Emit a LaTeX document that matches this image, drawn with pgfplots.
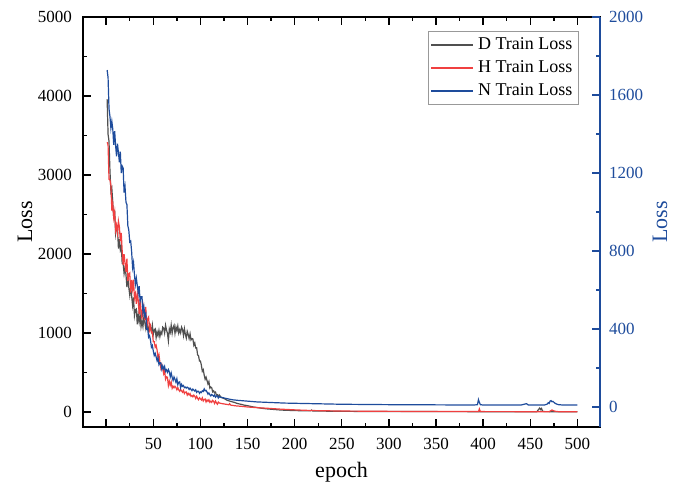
\documentclass[border=0pt]{standalone}
\usepackage{fontspec}
\setmainfont{Liberation Serif}
\usepackage{pgfplots}
\usepackage{pgfplotstable}
\pgfplotsset{compat=1.18}
\definecolor{dgray}{RGB}{80,80,80}
\definecolor{lred}{RGB}{240,64,64}
\definecolor{nblue}{RGB}{30,76,156}

\pgfplotstableread{
ep v
1 3960
2 3516
3 3428
4 3056
5 2792
6 2832
7 2642
8 2460
9 2550
10 2254
11 2326
12 2324
13 2070
14 2188
15 2054
16 2100
17 1880
18 1880
19 1750
20 1820
21 1740
22 1580
23 1710
24 1575
25 1480
26 1580
27 1470
28 1350
29 1450
30 1220
31 1295
32 1305
33 1110
34 1230
35 1140
36 1235
37 1080
38 1150
39 1080
40 1200
41 1135
42 1058
43 1149
44 1078
45 1026
46 1106
47 1066
48 1020
49 1100
50 982
51 1038
52 1052
53 940
54 1014
55 967
56 1033
57 954
58 1012
59 986
60 1074
61 1060
62 998
63 1099
64 1038
65 996
66 900
67 1051
68 1010
69 1100
70 997
71 1068
72 1097
73 995
74 1074
75 1027
76 1088
77 999
78 1042
79 1001
80 1074
81 1045
82 968
83 1054
84 983
85 936
86 1021
87 981
88 930
89 990
90 912
91 930
92 925
93 845
94 874
95 810
96 813
97 724
98 712
99 646
100 646
101 592
102 515
103 536
104 468
105 414
106 441
107 398
108 355
109 385
110 302
111 316
112 306
113 255
114 268
115 242
116 252
117 213
118 219
119 198
120 216
122 186
124 175
126 165
128 150
130 142
132 135
134 128
136 122
138 112
140 105
142 100
144 95
146 88
148 84
150 80
155 66
160 57
165 47
170 40
175 35
180 30
185 25
190 22
195 20
200 18
210 15
217 14
218 25
219 13
230 11
240 10
250 8
275 7
300 6
350 5
400 4
450 4
457 4
459 35
460 50
461 30
462 45
463 10
465 5
480 3
500 3
}\tabD

\pgfplotstableread{
ep v
1 3415
2 3380
3 2946
4 2939
5 2871
6 2550
7 2632
8 2461
9 2534
10 2302
11 2366
12 2268
13 2417
14 2345
15 2159
16 2267
17 2034
18 1863
19 1998
20 1883
21 1775
22 1940
23 1656
24 1749
25 1761
26 1510
27 1672
28 1561
29 1674
30 1442
31 1496
32 1368
33 1497
34 1415
35 1239
36 1427
37 1274
38 1173
39 1358
40 1273
41 1165
42 1330
43 1066
44 1179
45 1201
46 1040
47 1090
48 1005
49 1010
50 890
51 890
52 820
53 845
54 785
55 685
56 725
57 630
58 555
59 600
60 545
61 485
62 530
63 415
64 445
65 440
66 335
67 390
68 340
69 380
70 300
71 326
72 307
73 326
74 310
75 281
76 308
77 281
78 262
79 284
80 267
81 250
82 275
83 234
84 251
85 254
86 214
87 236
88 216
89 232
90 198
91 209
92 192
93 213
94 200
95 171
96 199
97 173
98 155
99 181
100 167
101 152
102 179
103 140
104 159
105 164
106 127
107 152
108 135
109 154
110 123
111 137
112 122
113 146
114 135
115 108
116 138
117 114
118 98
119 126
120 114
122 108
124 104
126 100
128 96
130 92
131 105
132 88
134 84
136 80
138 77
140 75
145 70
150 63
155 59
160 55
165 51
170 48
175 44
180 40
185 36
190 33
195 30
200 27
210 22
220 18
230 16
240 14
250 12
275 10
300 8
350 6
395 5
396 40
397 5
400 5
450 4
470 4
473 25
476 10
480 4
500 4
}\tabH

\pgfplotstableread{
ep v
1 1728
2 1690
3 1530
4 1490
5 1430
6 1465
7 1425
8 1345
9 1415
10 1340
11 1285
12 1350
13 1305
14 1255
15 1310
16 1200
17 1235
18 1225
19 1100
20 1130
21 1050
22 1038
23 929
24 907
25 846
26 851
27 797
28 715
29 741
30 678
31 629
32 661
33 623
34 583
35 620
36 542
37 565
38 565
39 485
40 514
41 465
42 478
43 399
44 402
45 358
46 366
47 343
48 307
49 316
50 287
51 264
52 275
53 257
54 237
55 252
56 217
57 227
58 226
59 194
60 210
61 195
62 208
63 183
64 191
65 178
66 192
67 180
68 155
69 174
70 152
71 136
72 154
73 142
74 127
75 145
76 114
77 127
78 129
79 99
80 116
81 106
82 110
83 99
84 102
85 97
86 102
87 98
88 90
89 97
90 90
91 84
92 92
93 87
94 82
95 88
96 75
97 81
98 81
99 70
100 77
101 74
102 83
103 80
104 93
105 83
106 85
107 77
108 66
109 72
110 63
111 57
112 64
113 60
114 55
115 62
116 50
117 56
118 57
119 46
120 53
122 49
124 48
126 45
128 43
130 41
132 39
134 37
136 36
138 35
140 34
145 32
150 30
155 28
160 26
165 25
170 24
175 23
180 22
190 20
200 19
210 18
220 17
230 16
240 15
250 14
275 13
300 12
350 11
390 10
394 12
395 38
396 24
397 12
400 10
440 10
446 17
448 10
465 10
468 15
469 22
470 18
471 30
472 33
473 27
474 29
476 20
478 15
480 12
485 10
490 10
500 10
}\tabN

\begin{document}
\begin{tikzpicture}
\path[use as bounding box] (-41.5pt,-30pt) rectangle (300.5pt,213.5pt);
\begin{axis}[
  at={(0,0)}, anchor=south west,
  scale only axis, width=258.5pt, height=205pt,
  xmin=-24.6, xmax=524, ymin=-190, ymax=5000,
  xtick={0,50,...,500},
  xticklabels={,50,100,150,200,250,300,350,400,450,500},
  minor x tick num=1,
  ytick={0,1000,...,5000}, minor y tick num=1,
  ytick pos=left, xtick pos=both,
  tick align=inside,
  major tick length=4pt, minor tick length=2pt,
  every tick/.style={black, line width=0.7pt},
  axis line style={line width=0.8pt},
  /pgf/number format/assume math mode=true,
  /pgf/number format/1000 sep={},
  tick label style={font=\fontsize{8.5}{10}\selectfont},
  xticklabel style={yshift=-2pt},
  yticklabel style={xshift=-2pt},
  xlabel={epoch}, ylabel={Loss},
  label style={font=\fontsize{11}{13}\selectfont},
  xlabel style={at={(axis description cs:0.5,0)}, anchor=center, yshift=-22.5pt},
  ylabel style={at={(axis description cs:0,0.5)}, anchor=center, yshift=29pt},
]
\addplot[dgray, line width=0.6pt] table[x=ep, y=v] {\tabD};
\addplot[lred, line width=0.6pt] table[x=ep, y=v] {\tabH};
\end{axis}
\begin{axis}[
  at={(0,0)}, anchor=south west,
  scale only axis, width=258.5pt, height=205pt,
  xmin=-24.6, xmax=524, ymin=-102.6, ymax=2000,
  axis x line=none, axis y line*=right,
  ytick={0,400,...,2000}, minor y tick num=1,
  tick align=inside,
  major tick length=4pt, minor tick length=2pt,
  every tick/.style={nblue, line width=0.7pt},
  y axis line style={nblue, line width=0.8pt},
  /pgf/number format/assume math mode=true,
  /pgf/number format/1000 sep={},
  tick label style={font=\fontsize{8.5}{10}\selectfont, text=nblue},
  yticklabel style={xshift=1pt},
  ylabel={Loss},
  ylabel style={font=\fontsize{11}{13}\selectfont, text=nblue, at={(axis description cs:1,0.5)}, anchor=center, rotate=0, yshift=-30pt},
  legend cell align=left,
  legend style={at={(axis description cs:0.959,0.966)}, anchor=north east,
    draw=gray!80, line width=0.4pt, font=\fontsize{9}{10}\selectfont,
    inner sep=1pt, row sep=0pt},
  legend image code/.code={\draw[#1, line width=0.9pt] (0pt,0pt) -- (21pt,0pt);},
]
\addlegendimage{color=dgray}
\addlegendentry{D Train Loss}
\addlegendimage{color=lred}
\addlegendentry{H Train Loss}
\addplot[nblue, line width=0.6pt] table[x=ep, y=v] {\tabN};
\addlegendentry{N Train Loss}
\end{axis}
\end{tikzpicture}
\end{document}
